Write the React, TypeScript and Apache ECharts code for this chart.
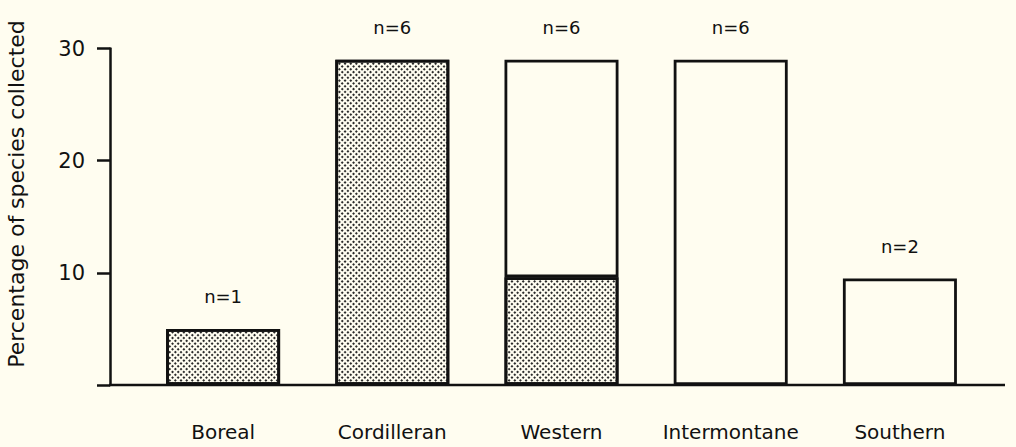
import React, { useEffect, useRef } from "react";
import * as echarts from "echarts";

const categories = ["Boreal", "Cordilleran", "Western", "Intermontane", "Southern"];
const shadedValues: (number | null)[] = [5, 29, 9.6, null, null];
const openValues: (number | null)[] = [null, null, 19.4, 29, 9.5];
const nLabels = ["n=1", "n=6", "n=6", "n=6", "n=2"];
const yTicks = [10, 20, 30];
const yTitle = "Percentage of species collected";

const BG = "#fffdf0";
const INK = "#111111";
const FONT = "DejaVu Sans";

export default function App() {
  const ref = useRef<HTMLDivElement>(null);
  useEffect(() => {
    document.body.style.margin = "0";
    document.body.style.background = BG;
    if (!ref.current) return;
    const chart = echarts.init(ref.current, undefined, { renderer: "svg" });
    const isTop = (i: number, series: "shaded" | "open") =>
      series === "open" ? openValues[i] != null : openValues[i] == null;
    const labelFor = (series: "shaded" | "open") => ({
      show: true,
      position: "top" as const,
      distance: 23,
      color: INK,
      fontFamily: FONT,
      fontSize: 18,
      formatter: (p: any) => (isTop(p.dataIndex, series) ? nLabels[p.dataIndex] : ""),
    });
    chart.setOption({
      animation: false,
      backgroundColor: BG,
      grid: { left: 138.5, right: 31.5, top: 48.5, bottom: 62 },
      xAxis: {
        type: "category",
        data: categories,
        axisLine: { show: false },
        axisTick: { show: false },
        axisLabel: {
          interval: 0,
          margin: 37,
          color: INK,
          fontFamily: FONT,
          fontSize: 20,
        },
      },
      yAxis: {
        type: "value",
        min: 0,
        max: 30,
        interval: 10,
        offset: 28.5,
        splitLine: { show: false },
        axisLine: { show: true, lineStyle: { color: INK, width: 2.5 } },
        axisTick: { show: true, inside: false, length: 13, lineStyle: { color: INK, width: 2.5 } },
        axisLabel: {
          margin: 25,
          color: INK,
          fontFamily: FONT,
          fontSize: 21,
          formatter: (v: number) => (yTicks.includes(v) ? String(v) : ""),
        },
      },
      graphic: [
        {
          type: "line",
          shape: { x1: 109, y1: 385, x2: 1005, y2: 385 },
          style: { stroke: INK, lineWidth: 2.5 },
          z: 10,
        },
        {
          type: "text",
          x: 16,
          y: 194,
          rotation: Math.PI / 2,
          style: {
            text: yTitle,
            fill: INK,
            font: `22px "${FONT}"`,
            align: "center",
            verticalAlign: "middle",
          },
        },
      ],
      series: [
        {
          name: "shaded",
          type: "bar",
          stack: "total",
          data: shadedValues,
          barWidth: 114,
          itemStyle: {
            color: BG,
            borderColor: INK,
            borderWidth: 2.8,
            decal: {
              symbol: "rect",
              symbolSize: 1,
              dashArrayX: [2, 1.2],
              dashArrayY: [2, 1.2],
              rotation: Math.PI / 4,
              color: "#2a2a2a",
            },
          },
          label: labelFor("shaded"),
        },
        {
          name: "open",
          type: "bar",
          stack: "total",
          data: openValues,
          barWidth: 114,
          itemStyle: { color: BG, borderColor: INK, borderWidth: 2.8 },
          label: labelFor("open"),
        },
      ],
    });
    return () => chart.dispose();
  }, []);
  return <div ref={ref} style={{ width: 1016, height: 447 }} />;
}
